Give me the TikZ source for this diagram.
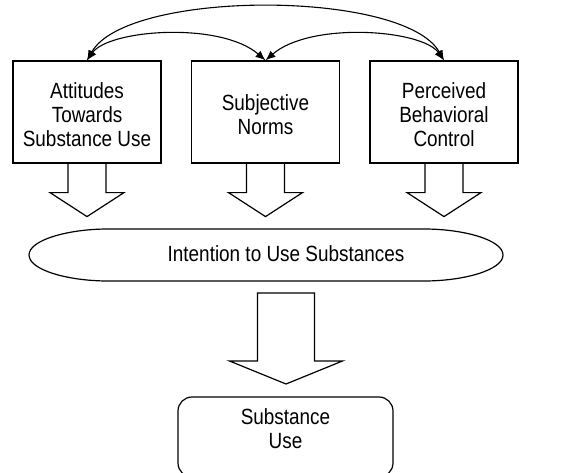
\documentclass[tikz,border=0pt]{standalone}
\usepackage{fontspec}
\setmainfont{Liberation Sans}[FakeStretch=0.86]
\usetikzlibrary{arrows.meta}

\tikzset{
  factorbox/.style={draw, line width=1.2pt, minimum width=148pt, minimum height=102pt, inner sep=0pt},
  outcomebox/.style={draw, line width=1.2pt, rounded corners=14pt, minimum width=215pt, minimum height=80pt, inner sep=0pt},
  caption/.style={align=center, inner sep=0pt, font=\fontsize{22}{24}\selectfont},
  blockarrow/.style={draw, line width=1.2pt, line join=miter},
  link/.style={line width=1.1pt, {Latex[length=10pt,width=8pt]}-{Latex[length=10pt,width=8pt]}}
}

\begin{document}
\begin{tikzpicture}[x=1pt,y=-1pt]
  \clip (0,0) rectangle (580,473);

  % three predictor boxes
  \node[factorbox] (att) at (87,112) {};
  \node[factorbox] (sn)  at (265.5,112) {};
  \node[factorbox] (pbc) at (444,112) {};
  \node[caption] (attT) at (87,115) {Attitudes\\Towards\\Substance Use};
  \node[caption] (snT)  at (265.5,115) {Subjective\\Norms};
  \node[caption] (pbcT) at (444,115) {Perceived\\Behavioral\\Control};

  % correlations between the predictors
  \draw[link] (att.north) .. controls +(22,-31) and +(-45,-39) .. (sn.north);
  \draw[link] (sn.north) .. controls +(45,-39) and +(-22,-31) .. (pbc.north);
  \draw[link] (att.north) .. controls +(40,-71) and +(-40,-71) .. (pbc.north);

  % block arrows from the predictors
  \foreach \b in {att,sn,pbc}{
    \draw[blockarrow] ([xshift=-19pt]\b.south) -- ++(0,29) -- ++(-18,0)
      -- ++(37,24) -- ++(37,-24) -- ++(-18,0) -- ++(0,-29);
  }

  % intention
  \draw[line width=1.2pt] (29,255) .. controls (29,240) and (68,229) .. (108,229)
    -- (424,229) .. controls (464,229) and (503,240) .. (503,255)
    .. controls (503,270) and (464,281) .. (424,281)
    -- (108,281) .. controls (68,281) and (29,270) .. (29,255) -- cycle;
  \node[caption] (int) at (286,254) {Intention to Use Substances};

  % block arrow to behaviour
  \coordinate (ba) at (286,293);
  \draw[blockarrow] ([xshift=-28.5pt]ba) -- ++(0,68) -- ++(-28,0) -- ++(56.5,23)
    -- ++(56.5,-23) -- ++(-28,0) -- ++(0,-68) -- cycle;

  % behaviour
  \node[outcomebox] (use) at (285.5,437) {};
  \node[caption] (useT) at (285.5,429) {Substance\\Use};
\end{tikzpicture}
\end{document}
